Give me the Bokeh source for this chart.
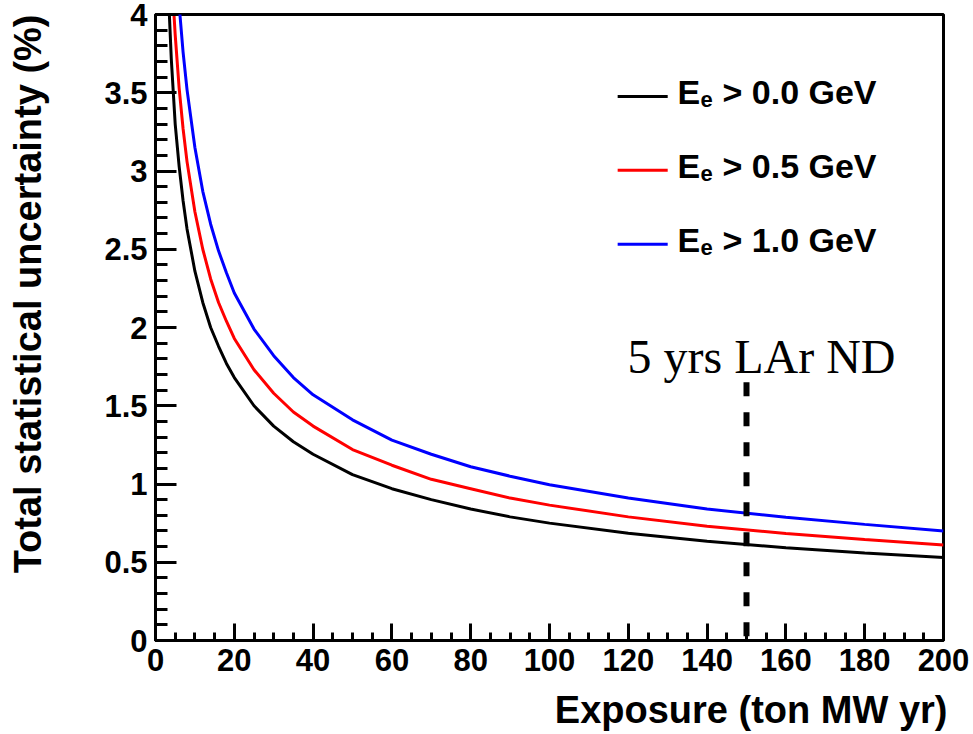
from bokeh.plotting import figure
from bokeh.models import Range1d, FixedTicker, Label, Title
from bokeh.embed import file_html
from bokeh.resources import INLINE

# ---- data ----
x_black = [3.5, 4, 5, 6, 7, 8, 10, 12, 14, 16, 18, 20, 25, 30, 35, 40, 50, 60, 70, 80, 90, 100, 120, 140, 160, 180, 200]
y_black = [4.01, 3.72, 3.30, 3.03, 2.81, 2.63, 2.36, 2.16, 2.00, 1.88, 1.77, 1.68, 1.50, 1.37, 1.27, 1.19, 1.06, 0.97, 0.90, 0.84, 0.79, 0.75, 0.685, 0.634, 0.593, 0.559, 0.53]

x_red = [4.5, 5, 6, 7, 8, 10, 12, 14, 16, 18, 20, 25, 30, 35, 40, 50, 60, 70, 80, 90, 100, 120, 140, 160, 180, 200]
y_red = [4.08, 3.87, 3.53, 3.27, 3.06, 2.74, 2.50, 2.31, 2.16, 2.04, 1.93, 1.73, 1.58, 1.46, 1.37, 1.22, 1.12, 1.03, 0.97, 0.91, 0.865, 0.79, 0.73, 0.684, 0.645, 0.61]

x_blue = [6, 7, 8, 10, 12, 14, 16, 18, 20, 25, 30, 35, 40, 50, 60, 70, 80, 90, 100, 120, 140, 160, 180, 200]
y_blue = [4.06, 3.76, 3.52, 3.15, 2.87, 2.66, 2.49, 2.35, 2.22, 1.99, 1.82, 1.68, 1.57, 1.41, 1.28, 1.19, 1.11, 1.05, 0.995, 0.91, 0.84, 0.787, 0.742, 0.70]

series_labels = ["> 0.0 GeV", "> 0.5 GeV", "> 1.0 GeV"]
series_colors = ["#000000", "#ff0000", "#0000ff"]

nd_exposure = [150, 150]
nd_extent = [1.65, 0.0]
nd_text = "5 yrs LAr ND"

x_title = "Exposure (ton MW yr)"
y_title = "Total statistical uncertainty (%)"

x_major = [0, 20, 40, 60, 80, 100, 120, 140, 160, 180, 200]
x_minor = [v * 5 for v in range(41)]
y_major = [0, 0.5, 1, 1.5, 2, 2.5, 3, 3.5, 4]
y_major_labels = ["0", "0.5", "1", "1.5", "2", "2.5", "3", "3.5", "4"]
y_minor = [round(v * 0.1, 1) for v in range(41)]

SANS = "Liberation Sans"

p = figure(width=973, height=734, output_backend="svg", toolbar_location=None,
           x_range=Range1d(0, 200), y_range=Range1d(0, 4),
           min_border_left=155, min_border_right=30, min_border_top=14, min_border_bottom=94)
p.background_fill_color = "white"
p.border_fill_color = "white"
p.outline_line_color = "black"
p.outline_line_width = 3
p.xgrid.visible = False
p.ygrid.visible = False

p.xaxis.ticker = FixedTicker(ticks=x_major, minor_ticks=x_minor)
p.yaxis.ticker = FixedTicker(ticks=y_major, minor_ticks=y_minor)
p.yaxis.major_label_overrides = {v: s for v, s in zip(y_major, y_major_labels)}

for ax in (p.xaxis[0], p.yaxis[0]):
    ax.axis_line_width = 3
    ax.axis_line_color = "black"
    ax.major_tick_line_width = 3
    ax.minor_tick_line_width = 3
    ax.major_tick_out = 0
    ax.minor_tick_out = 0
    ax.major_label_text_font = SANS
    ax.major_label_text_font_style = "bold"
    ax.major_label_text_font_size = "31px"
    ax.major_label_text_color = "black"
    # invisible spacer label used only to push the right-aligned titles outward
    ax.axis_label = " "
    ax.axis_label_text_font_size = "2px"
p.xaxis.major_tick_in = 17
p.xaxis.minor_tick_in = 8
p.yaxis.major_tick_in = 21
p.yaxis.minor_tick_in = 12
p.xaxis.major_label_standoff = 8
p.yaxis.major_label_standoff = 8
p.xaxis.axis_label_standoff = 8
p.yaxis.axis_label_standoff = 48

xs_all = [x_black, x_red, x_blue]
ys_all = [y_black, y_red, y_blue]
for xs, ys, c in zip(xs_all, ys_all, series_colors):
    p.line(xs, ys, line_color=c, line_width=3)

p.line(nd_exposure, nd_extent, line_color="black", line_width=6, line_dash="14 16")

# ND annotation
p.add_layout(Label(x=472, y=284, x_units="screen", y_units="screen", text=nd_text,
                   text_font="Liberation Serif", text_font_size="48px", text_color="black",
                   text_baseline="alphabetic", text_align="left"))

# legend (manual, to allow subscript)
leg_x0, leg_x1 = 117.3, 130.0
leg_rows_y = [3.476, 3.004, 2.532]
for i, (lab, c) in enumerate(zip(series_labels, series_colors)):
    yv = leg_rows_y[i]
    p.line([leg_x0, leg_x1], [yv, yv], line_color=c, line_width=3)
    base = 549 - 74 * i
    p.add_layout(Label(x=522, y=base, x_units="screen", y_units="screen", text="E",
                       text_font=SANS, text_font_style="bold", text_font_size="34px",
                       text_baseline="alphabetic", text_color="black"))
    p.add_layout(Label(x=545, y=base - 8, x_units="screen", y_units="screen", text="e",
                       text_font=SANS, text_font_style="bold", text_font_size="22px",
                       text_baseline="alphabetic", text_color="black"))
    p.add_layout(Label(x=567, y=base, x_units="screen", y_units="screen", text=lab,
                       text_font=SANS, text_font_style="bold", text_font_size="34px",
                       text_baseline="alphabetic", text_color="black"))

# axis titles (right-aligned, ROOT style)
p.add_layout(Title(text=x_title, align="right", text_font=SANS,
                   text_font_style="bold", text_font_size="38px", text_color="black",
                   standoff=0, offset=-4), "below")
p.add_layout(Title(text=y_title, align="right", text_font=SANS,
                   text_font_style="bold", text_font_size="38px", text_color="black",
                   standoff=0), "left")

open("out.html", "w").write(file_html(p, INLINE))
